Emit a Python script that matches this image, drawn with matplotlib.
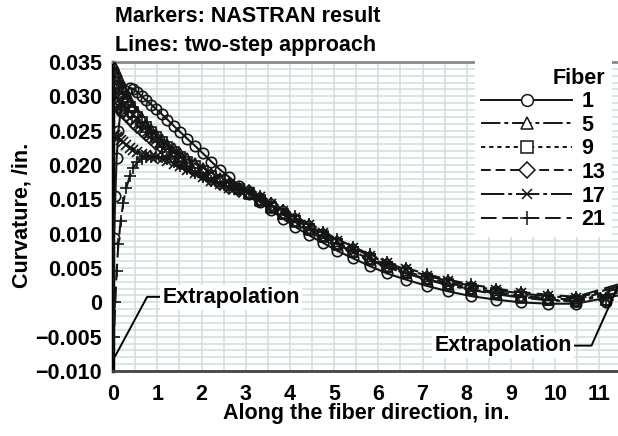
import matplotlib
matplotlib.use("Agg")
import matplotlib.pyplot as plt
from matplotlib.lines import Line2D
from matplotlib.ticker import MultipleLocator

plt.rcParams['font.family'] = ['Liberation Sans', 'DejaVu Sans']
plt.rcParams['font.weight'] = 'bold'
plt.rcParams['font.size'] = 15.5

# stations along the fiber (in.) where NASTRAN curvature is reported
stations = [0.02, 0.05, 0.08, 0.12, 0.17, 0.23, 0.30, 0.38, 0.46, 0.55,
            0.65, 0.75, 0.86, 0.98, 1.10, 1.23, 1.37, 1.52, 1.68, 1.85,
            2.03, 2.22, 2.42, 2.63, 2.85, 3.08, 3.32, 3.57, 3.84, 4.12,
            4.42, 4.74, 5.07, 5.43, 5.80, 6.20, 6.63, 7.09, 7.58, 8.10,
            8.65, 9.22, 9.83, 10.47, 11.15]

fibers = ['1', '5', '9', '13', '17', '21']

curv_1 = [0.0093, 0.0155, 0.0210, 0.0250, 0.0278, 0.0297, 0.0307, 0.0312, 0.0311, 0.0306,
          0.0300, 0.0294, 0.0288, 0.0281, 0.0274, 0.0266, 0.0257, 0.0248, 0.0238, 0.0228,
          0.0217, 0.0205, 0.0193, 0.0182, 0.0170, 0.0158, 0.0146, 0.0134, 0.0122, 0.0110,
          0.0098, 0.0087, 0.0075, 0.0064, 0.0053, 0.0042, 0.0033, 0.0024, 0.0016, 0.0009,
          0.0004, 0.0000, -0.0002, -0.0002, 0.0001]
curv_5 = [0.0345, 0.0341, 0.0336, 0.0330, 0.0322, 0.0313, 0.0304, 0.0295, 0.0286, 0.0277,
          0.0268, 0.0260, 0.0252, 0.0245, 0.0238, 0.0231, 0.0224, 0.0217, 0.0210, 0.0203,
          0.0196, 0.0189, 0.0181, 0.0174, 0.0166, 0.0158, 0.0148, 0.0138, 0.0128, 0.0117,
          0.0106, 0.0095, 0.0084, 0.0073, 0.0062, 0.0051, 0.0042, 0.0033, 0.0025, 0.0018,
          0.0012, 0.0007, 0.0003, 0.0001, 0.0003]
curv_9 = [0.0320, 0.0317, 0.0314, 0.0310, 0.0305, 0.0299, 0.0292, 0.0285, 0.0277, 0.0270,
          0.0262, 0.0255, 0.0248, 0.0240, 0.0233, 0.0226, 0.0219, 0.0212, 0.0205, 0.0198,
          0.0191, 0.0184, 0.0177, 0.0171, 0.0165, 0.0159, 0.0149, 0.0139, 0.0129, 0.0118,
          0.0107, 0.0096, 0.0085, 0.0074, 0.0063, 0.0052, 0.0043, 0.0034, 0.0026, 0.0019,
          0.0013, 0.0008, 0.0004, 0.0002, 0.0003]
curv_13 = [0.0292, 0.0290, 0.0288, 0.0285, 0.0282, 0.0278, 0.0273, 0.0268, 0.0263, 0.0257,
           0.0251, 0.0245, 0.0239, 0.0232, 0.0226, 0.0219, 0.0212, 0.0205, 0.0199, 0.0193,
           0.0187, 0.0180, 0.0174, 0.0168, 0.0163, 0.0160, 0.0151, 0.0141, 0.0131, 0.0120,
           0.0109, 0.0098, 0.0087, 0.0076, 0.0065, 0.0054, 0.0045, 0.0036, 0.0028, 0.0021,
           0.0015, 0.0010, 0.0006, 0.0004, 0.0004]
curv_17 = [0.0244, 0.0243, 0.0241, 0.0239, 0.0236, 0.0233, 0.0229, 0.0225, 0.0222, 0.0219,
           0.0216, 0.0214, 0.0212, 0.0211, 0.0209, 0.0206, 0.0202, 0.0198, 0.0193, 0.0188,
           0.0182, 0.0177, 0.0172, 0.0167, 0.0163, 0.0161, 0.0153, 0.0143, 0.0133, 0.0123,
           0.0112, 0.0101, 0.0090, 0.0079, 0.0068, 0.0057, 0.0048, 0.0039, 0.0031, 0.0024,
           0.0018, 0.0013, 0.0009, 0.0006, 0.0005]
curv_21 = [-0.0050, 0.0000, 0.0045, 0.0085, 0.0118, 0.0145, 0.0167, 0.0184, 0.0196, 0.0204,
           0.0209, 0.0211, 0.0212, 0.0212, 0.0211, 0.0208, 0.0204, 0.0199, 0.0194, 0.0188,
           0.0182, 0.0177, 0.0172, 0.0168, 0.0164, 0.0162, 0.0155, 0.0145, 0.0135, 0.0125,
           0.0114, 0.0103, 0.0092, 0.0081, 0.0070, 0.0059, 0.0050, 0.0041, 0.0033, 0.0026,
           0.0020, 0.0015, 0.0011, 0.0008, 0.0006]
curvatures = [curv_1, curv_5, curv_9, curv_13, curv_17, curv_21]

# two-step curves are extrapolated to both fiber ends
x_end = 11.42
left_ext = [-0.0080, 0.0350, 0.0322, 0.0293, 0.0245, -0.0068]
right_ext = [0.0010, 0.0014, 0.0017, 0.0020, 0.0023, 0.0026]

markers = ['o', '^', 's', 'D', 'x', '+']
msizes = [7.5, 7.5, 7, 7, 6.5, 8.5]
dashes = ['-', (0, (10, 2, 2, 2)), (0, (2.2, 2)), (0, (5, 2.5)),
          (0, (12, 2, 2, 2)), (0, (8, 3))]

ink = '#151515'
fig = plt.figure(figsize=(6.18, 4.36), dpi=100)
ax = fig.add_axes([0.183, 0.149, 0.817, 0.709])

for vals, le, re, mk, ms, ls in zip(curvatures, left_ext, right_ext, markers, msizes, dashes):
    xl = [0.0] + stations[:-1] + [x_end]
    yl = [le] + vals[:-1] + [re]
    ax.plot(xl, yl, color=ink, lw=1.5, ls=ls, zorder=3)
    ax.plot(stations, vals, ls='none', marker=mk, ms=ms, mfc='none',
            mec=ink, mew=1.2, zorder=4)

ax.set_xlim(0, x_end)
ax.set_ylim(-0.010, 0.035)
ax.set_xticks(range(12))
ax.xaxis.set_minor_locator(MultipleLocator(0.5))
yt = [-0.010, -0.005, 0, 0.005, 0.010, 0.015, 0.020, 0.025, 0.030, 0.035]
ax.set_yticks(yt)
ax.set_yticklabels(['\u22120.010', '\u22120.005', '0', '0.005', '0.010', '0.015',
                    '0.020', '0.025', '0.030', '0.035'])
ax.yaxis.set_minor_locator(MultipleLocator(0.001))
ax.grid(which='both', color='#cfdede', lw=1.1)
ax.set_axisbelow(True)
ax.tick_params(which='both', length=0)
ax.tick_params(axis='y', pad=8)
ax.tick_params(axis='x', pad=9)

ax.spines['right'].set_visible(False)
ax.spines['top'].set_color('#8a8a8a')
ax.spines['top'].set_linewidth(2)
ax.spines['left'].set_color('black')
ax.spines['left'].set_linewidth(2.5)
ax.spines['bottom'].set_color('#444444')
ax.spines['bottom'].set_linewidth(2)

# extrapolation call-outs
box = dict(facecolor='white', edgecolor='none', pad=1.5)
ax.plot([0.05, 0.77, 1.1], [-0.0078, 0.0008, 0.0008], color='black', lw=1.4, zorder=5)
ax.text(1.12, 0.0007, 'Extrapolation', ha='left', va='center', bbox=box, zorder=6)
ax.plot([10.4, 10.82, 11.41], [-0.0063, -0.0063, 0.0022], color='black', lw=1.4,
        zorder=5, clip_on=False)
ax.text(10.38, -0.0063, 'Extrapolation', ha='right', va='center', bbox=box, zorder=6)

handles = [Line2D([], [], color=ink, lw=1.4, ls=ls, marker=mk, ms=ms + 1,
                  mfc='white', mec=ink, mew=1.1)
           for mk, ms, ls in zip(markers, msizes, dashes)]
leg = ax.legend(handles, fibers, title='Fiber', loc='upper right',
                bbox_to_anchor=(0.99, 1.006), borderaxespad=0.05, handlelength=4.2,
                handletextpad=0.45, labelspacing=0.12, numpoints=1,
                borderpad=0.3, frameon=True, facecolor='white', edgecolor='none',
                framealpha=1, fancybox=False, alignment='right')
leg.get_title().set_fontweight('bold')
leg.set_zorder(10)

fig.text(115 / 618, 1 - 17 / 436, 'Markers: NASTRAN result', ha='left', va='center')
fig.text(115 / 618, 1 - 45 / 436, 'Lines: two-step approach', ha='left', va='center')
fig.text(366 / 618, 1 - 413 / 436, 'Along the fiber direction, in.', ha='center', va='center')
fig.text(22 / 618, 1 - 215 / 436, 'Curvature, /in.', ha='center', va='center', rotation=90)

fig.savefig('out.png', dpi=100)
